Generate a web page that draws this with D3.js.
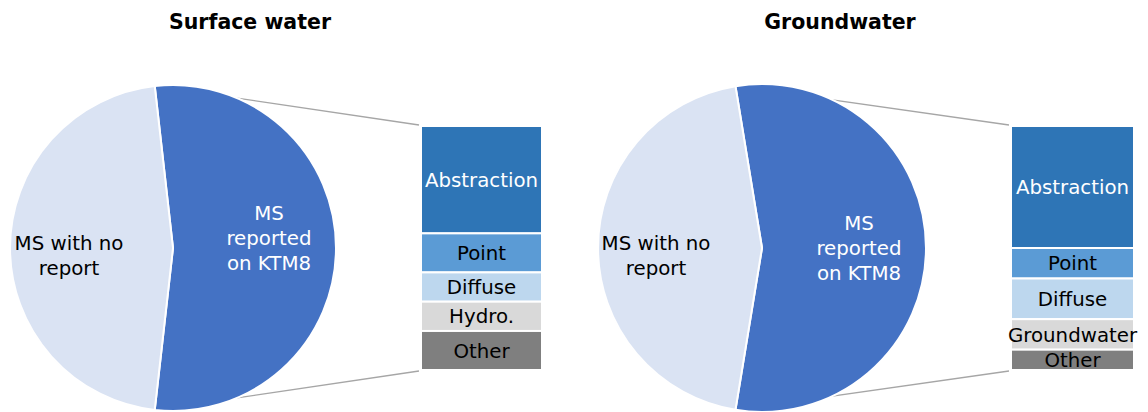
<!DOCTYPE html>
<html>
<head>
<meta charset="utf-8">
<script src="https://cdn.jsdelivr.net/npm/d3@7"></script>
<style>
  html, body { margin: 0; padding: 0; background: #fff; }
  svg { display: block; font-family: "DejaVu Sans", Verdana, sans-serif; }
</style>
</head>
<body>
<svg id="chart" width="1148" height="412"></svg>
<script>
// Pie: Member States that reported on KTM8 vs. those that did not
const pieLabels = ["MS reported on KTM8", "MS with no report"];
const surfacePie = [15, 13];
const groundPie = [16, 13];

// Breakdown of the reported slice by pressure type
const surfaceCats = ["Abstraction", "Point", "Diffuse", "Hydro.", "Other"];
const surfaceVals = [11, 4, 3, 3, 4];
const groundCats = ["Abstraction", "Point", "Diffuse", "Groundwater", "Other"];
const groundVals = [12, 3, 4, 3, 2];

const pieColors = ["#4472C4", "#DAE3F3"];
const barColors = ["#2E75B6", "#5B9BD5", "#BDD7EE", "#D9D9D9", "#7F7F7F"];
const barTextColors = ["#ffffff", "#000000", "#000000", "#000000", "#000000"];

const FS = 19.8;

const svg = d3.select("#chart");

function drawPanel(cfg) {
  const g = svg.append("g");
  const total = d3.sum(cfg.pie);
  const frac = cfg.pie[0] / total;
  const start = Math.PI / 2 - frac * Math.PI;

  const pie = d3.pie().sort(null).value(d => d)
    .startAngle(start).endAngle(start + 2 * Math.PI);
  const arcs = pie(cfg.pie);
  const arc = d3.arc().innerRadius(0).outerRadius(cfg.r);

  // Bar geometry
  const y = d3.scaleLinear().domain([0, d3.sum(cfg.vals)]).range([cfg.barTop, cfg.barBottom]);
  const cum = d3.cumsum(cfg.vals);
  const segs = cfg.vals.map((v, i) => ({ cat: cfg.cats[i], v, i, y0: cum[i] - v, y1: cum[i] }));

  // Series lines from the split slice edges to the bar corners (behind the pie)
  const a0 = arcs[0].startAngle, a1 = arcs[0].endAngle;
  const p0 = [cfg.cx + cfg.r * Math.sin(a0), cfg.cy - cfg.r * Math.cos(a0)];
  const p1 = [cfg.cx + cfg.r * Math.sin(a1), cfg.cy - cfg.r * Math.cos(a1)];
  g.append("line").attr("x1", p0[0]).attr("y1", p0[1])
    .attr("x2", cfg.barX - 2).attr("y2", y(0) - 1)
    .attr("stroke", "#A6A6A6").attr("stroke-width", 1.3);
  g.append("line").attr("x1", p1[0]).attr("y1", p1[1])
    .attr("x2", cfg.barX - 2).attr("y2", y(d3.sum(cfg.vals)) + 1)
    .attr("stroke", "#A6A6A6").attr("stroke-width", 1.3);

  // Pie slices
  const pg = g.append("g").attr("transform", `translate(${cfg.cx},${cfg.cy})`);
  pg.selectAll("path").data(arcs).join("path")
    .attr("d", arc)
    .attr("fill", (d, i) => pieColors[i])
    .attr("stroke", "#fff").attr("stroke-width", 2).attr("stroke-linejoin", "round");

  // Pie labels
  const lblNo = g.append("text").attr("text-anchor", "middle")
    .attr("font-size", FS).attr("fill", "#000");
  ["MS with no", "report"].forEach((t, i) => {
    lblNo.append("tspan").attr("x", cfg.noX).attr("y", cfg.noY + i * 25).text(t);
  });
  const lblYes = g.append("text").attr("text-anchor", "middle")
    .attr("font-size", FS).attr("fill", "#fff");
  ["MS", "reported", "on KTM8"].forEach((t, i) => {
    lblYes.append("tspan").attr("x", cfg.yesX).attr("y", cfg.yesY + i * 25).text(t);
  });

  // Stacked bar
  const bg = g.append("g");
  bg.selectAll("rect").data(segs).join("rect")
    .attr("x", cfg.barX).attr("width", cfg.barW)
    .attr("y", d => y(d.y0)).attr("height", d => y(d.y1) - y(d.y0))
    .attr("fill", d => barColors[d.i])
    .attr("stroke", "#fff").attr("stroke-width", 2);
  bg.selectAll("text").data(segs).join("text")
    .attr("x", cfg.barX + cfg.barW / 2)
    .attr("y", d => (y(d.y0) + y(d.y1)) / 2)
    .attr("dy", "0.36em")
    .attr("text-anchor", "middle")
    .attr("font-size", FS)
    .attr("fill", d => barTextColors[d.i])
    .text(d => d.cat);

  // Title
  g.append("text").attr("x", cfg.titleX).attr("y", 29)
    .attr("text-anchor", "middle").attr("font-weight", "bold")
    .attr("font-size", 20.5).attr("fill", "#000").text(cfg.title);
}

drawPanel({
  title: "Surface water", titleX: 250,
  pie: surfacePie, cats: surfaceCats, vals: surfaceVals,
  cx: 173, cy: 248, r: 163,
  barX: 421, barW: 121, barTop: 126, barBottom: 370,
  noX: 69, noY: 250, yesX: 269, yesY: 220
});

drawPanel({
  title: "Groundwater", titleX: 840,
  pie: groundPie, cats: groundCats, vals: groundVals,
  cx: 762, cy: 248, r: 164,
  barX: 1011, barW: 123, barTop: 126, barBottom: 370,
  noX: 656, noY: 250, yesX: 859, yesY: 230
});
</script>
</body>
</html>
